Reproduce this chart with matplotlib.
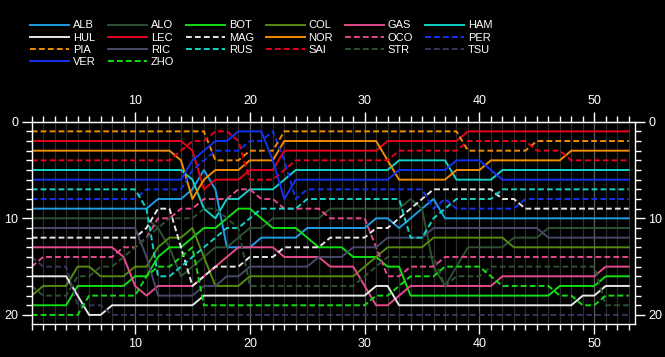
import numpy as np
import matplotlib.pyplot as plt
from matplotlib.ticker import MultipleLocator, FixedLocator

plt.rcParams["font.family"] = ["Liberation Sans", "DejaVu Sans"]

# =====================================================
# Data: race position per lap (laps 1..53)
# =====================================================

laps = list(range(1, 54))

drivers = ["ALB", "ALO", "BOT", "COL", "GAS", "HAM",
           "HUL", "LEC", "MAG", "NOR", "OCO", "PER",
           "PIA", "RIC", "RUS", "SAI", "STR", "TSU",
           "VER", "ZHO"]

ALB = [9, 9, 9, 9, 9, 9, 9, 9, 9, 9,
       9, 8, 8, 8, 7, 5, 7, 13, 13, 13,
       12, 12, 12, 12, 11, 11, 11, 11, 11, 11,
       10, 10, 11, 10, 9, 8, 10, 10, 10, 10,
       10, 10, 10, 10, 10, 10, 10, 10, 10, 10,
       10, 10, 10]
ALO = [10, 10, 10, 10, 10, 10, 10, 10, 10, 10,
       10, 11, 13, 16, 15, 14, 13, 13, 12, 11,
       11, 10, 10, 10, 10, 10, 9, 9, 9, 9,
       9, 9, 9, 8, 9, 15, 17, 15, 13, 13,
       13, 13, 12, 12, 12, 11, 11, 11, 11, 11,
       11, 11, 11]
BOT = [19, 19, 19, 19, 17, 17, 17, 17, 17, 16,
       16, 14, 13, 13, 12, 11, 11, 10, 9, 9,
       10, 11, 11, 11, 12, 13, 13, 13, 14, 14,
       14, 15, 15, 18, 18, 18, 18, 18, 18, 18,
       18, 18, 18, 18, 18, 18, 17, 17, 17, 17,
       16, 16, 16]
COL = [18, 17, 17, 17, 15, 15, 16, 16, 16, 15,
       15, 13, 12, 12, 11, 14, 17, 17, 17, 16,
       16, 16, 16, 16, 16, 16, 16, 16, 16, 15,
       14, 13, 13, 13, 13, 12, 12, 12, 12, 12,
       12, 12, 13, 13, 13, 13, 13, 13, 13, 13,
       13, 13, 13]
GAS = [13, 13, 13, 13, 13, 13, 13, 13, 14, 17,
       18, 17, 17, 17, 17, 16, 15, 14, 13, 13,
       13, 13, 14, 14, 14, 14, 15, 15, 15, 17,
       19, 19, 18, 17, 17, 17, 17, 17, 17, 17,
       17, 16, 16, 16, 16, 16, 16, 16, 16, 16,
       15, 15, 15]
HAM = [5, 5, 5, 5, 5, 5, 5, 5, 5, 5,
       5, 5, 5, 5, 6, 9, 10, 8, 8, 7,
       7, 7, 6, 5, 5, 5, 5, 5, 5, 5,
       5, 5, 4, 4, 4, 4, 4, 6, 6, 6,
       6, 5, 5, 5, 5, 5, 5, 5, 5, 5,
       5, 5, 5]
HUL = [16, 16, 16, 16, 18, 20, 20, 19, 19, 19,
       19, 19, 19, 19, 19, 18, 18, 18, 18, 18,
       18, 18, 18, 18, 18, 18, 18, 18, 18, 18,
       17, 17, 19, 19, 19, 19, 19, 19, 19, 19,
       19, 19, 19, 19, 19, 19, 19, 19, 18, 18,
       17, 17, 17]
LEC = [2, 2, 2, 2, 2, 2, 2, 2, 2, 2,
       2, 2, 2, 2, 3, 7, 6, 6, 6, 5,
       5, 5, 3, 3, 3, 3, 3, 3, 3, 3,
       3, 2, 2, 2, 2, 2, 2, 2, 1, 1,
       1, 1, 1, 1, 1, 1, 1, 1, 1, 1,
       1, 1, 1]
MAG = [12, 12, 12, 12, 12, 12, 12, 12, 12, 12,
       11, 9, 9, 13, 17, 16, 15, 15, 15, 14,
       14, 14, 13, 13, 13, 13, 12, 12, 12, 12,
       11, 11, 10, 9, 8, 7, 7, 7, 7, 7,
       7, 8, 8, 9, 9, 9, 9, 9, 9, 9,
       9, 9, 9]
NOR = [3, 3, 3, 3, 3, 3, 3, 3, 3, 3,
       3, 3, 3, 4, 8, 6, 5, 5, 5, 4,
       4, 4, 2, 2, 2, 2, 2, 2, 2, 2,
       2, 4, 6, 6, 6, 6, 6, 5, 5, 5,
       4, 4, 4, 4, 4, 4, 4, 3, 3, 3,
       3, 3, 3]
OCO = [15, 14, 14, 14, 14, 14, 14, 14, 13, 13,
       12, 10, 10, 9, 9, 8, 8, 8, 7, 7,
       8, 8, 9, 9, 9, 9, 10, 10, 10, 10,
       13, 16, 16, 15, 15, 15, 14, 14, 14, 14,
       14, 14, 14, 14, 14, 14, 14, 14, 14, 14,
       14, 14, 14]
PER = [8, 8, 8, 8, 8, 8, 8, 8, 8, 8,
       7, 7, 7, 7, 5, 4, 3, 3, 3, 2,
       2, 1, 4, 8, 7, 7, 7, 7, 7, 7,
       7, 7, 7, 7, 7, 9, 8, 9, 9, 9,
       9, 9, 9, 8, 8, 8, 8, 8, 8, 8,
       8, 8, 8]
PIA = [1, 1, 1, 1, 1, 1, 1, 1, 1, 1,
       1, 1, 1, 1, 1, 1, 4, 4, 4, 3,
       3, 3, 1, 1, 1, 1, 1, 1, 1, 1,
       1, 1, 1, 1, 1, 1, 1, 1, 3, 3,
       3, 3, 3, 3, 2, 2, 2, 2, 2, 2,
       2, 2, 2]
RIC = [11, 11, 11, 11, 11, 11, 11, 11, 11, 11,
       14, 18, 18, 18, 18, 17, 17, 16, 16, 15,
       15, 15, 15, 15, 15, 14, 14, 14, 13, 13,
       13, 12, 12, 12, 12, 11, 11, 11, 11, 11,
       11, 11, 11, 11, 11, 12, 12, 12, 12, 12,
       12, 12, 12]
RUS = [7, 7, 7, 7, 7, 7, 7, 7, 7, 7,
       9, 16, 16, 15, 14, 13, 12, 11, 11, 10,
       9, 9, 9, 9, 8, 8, 8, 8, 8, 8,
       8, 8, 8, 12, 12, 10, 9, 8, 8, 8,
       8, 7, 7, 7, 7, 7, 7, 7, 7, 7,
       7, 7, 7]
SAI = [4, 4, 4, 4, 4, 4, 4, 4, 4, 4,
       4, 4, 4, 3, 2, 2, 1, 1, 2, 6,
       6, 6, 5, 4, 4, 4, 4, 4, 4, 4,
       4, 4, 3, 3, 3, 3, 3, 3, 2, 2,
       2, 2, 2, 2, 3, 3, 3, 4, 4, 4,
       4, 4, 4]
STR = [17, 18, 18, 18, 16, 16, 15, 15, 14, 13,
       12, 11, 10, 10, 10, 9, 9, 10, 11, 17,
       17, 17, 17, 17, 17, 17, 17, 17, 17, 16,
       15, 14, 14, 14, 14, 14, 17, 16, 16, 16,
       15, 15, 15, 15, 15, 15, 15, 15, 15, 15,
       19, 19, 19]
TSU = [14, 15, 15, 15, 19, 19, 19, 20, 20, 20,
       20, 20, 20, 20, 20, 20, 20, 20, 20, 20,
       20, 20, 20, 20, 20, 20, 20, 20, 20, 20,
       20, 20, 20, 20, 20, 20, 20, 20, 20, 20,
       20, 20, 20, 20, 20, 20, 20, 20, 20, 20,
       20, 20, 20]
VER = [6, 6, 6, 6, 6, 6, 6, 6, 6, 6,
       6, 6, 6, 6, 4, 3, 2, 2, 1, 1,
       1, 4, 8, 6, 6, 6, 6, 6, 6, 6,
       6, 6, 5, 5, 5, 5, 5, 4, 4, 4,
       5, 6, 6, 6, 6, 6, 6, 6, 6, 6,
       6, 6, 6]
ZHO = [20, 20, 20, 20, 20, 18, 18, 18, 18, 18,
       16, 15, 15, 14, 13, 19, 19, 19, 19, 19,
       19, 19, 19, 19, 19, 19, 19, 19, 19, 19,
       18, 18, 17, 16, 16, 16, 15, 15, 15, 15,
       16, 17, 17, 17, 17, 17, 18, 18, 19, 19,
       18, 18, 18]

positions = [ALB, ALO, BOT, COL, GAS, HAM, HUL, LEC, MAG, NOR,
             OCO, PER, PIA, RIC, RUS, SAI, STR, TSU, VER, ZHO]

colors = ["#1F9DE3", "#2E5231", "#12DD12", "#548A10", "#E64A8C", "#12D3C6",
          "#E6E6E6", "#E8001C", "#E6E6E6", "#F28C00", "#E64A8C", "#1232F0",
          "#F28C00", "#464A66", "#12D3C6", "#E8001C", "#2E5231", "#34375A",
          "#1232F0", "#12DD12"]

dashed = ["MAG", "OCO", "PER", "PIA", "RUS", "SAI", "STR", "TSU", "ZHO"]

lap_ticks = [10, 20, 30, 40, 50]

# =====================================================
# Figure
# =====================================================

fig = plt.figure(figsize=(6.65, 3.57), dpi=100, facecolor="black")

ax = fig.add_axes([0.0477, 0.0924, 0.9072, 0.5667], facecolor="black")

handles = []

for name, pos, col in zip(drivers, positions, colors):

    ls = (0, (3, 1.6)) if name in dashed else "-"

    line, = ax.plot(laps, pos, color=col, lw=1.4, ls=ls, label=name,
                    solid_joinstyle="round")

    handles.append(line)

ax.set_xlim(1, 53.55)
ax.set_ylim(20.94, 0)

ax.xaxis.set_major_locator(FixedLocator(lap_ticks))
ax.xaxis.set_minor_locator(MultipleLocator(1))
ax.yaxis.set_major_locator(FixedLocator([0, 10, 20]))
ax.yaxis.set_minor_locator(MultipleLocator(1))

ax.grid(which="minor", axis="x", color="#2c2c2c", lw=0.9)
ax.grid(which="major", axis="x", color="#5c5c5c", lw=0.9)
ax.set_axisbelow(True)

for sp in ax.spines.values():

    sp.set_color("white")

    sp.set_linewidth(1.0)

ax.tick_params(axis="both", which="both", colors="white", direction="out",
               labelsize=9, width=1.0)
ax.tick_params(axis="both", which="major", length=7)
ax.tick_params(axis="both", which="minor", length=4)
ax.tick_params(axis="x", which="major", pad=3)
ax.tick_params(axis="y", which="both", right=True, labelright=True, pad=2.5)

top = ax.secondary_xaxis("top")
top.xaxis.set_major_locator(FixedLocator(lap_ticks))
top.xaxis.set_minor_locator(MultipleLocator(1))
top.spines["top"].set_color("white")
top.tick_params(axis="x", which="both", colors="white", direction="out",
                labelsize=9, width=1.0)
top.tick_params(axis="x", which="major", length=7, pad=3.5)
top.tick_params(axis="x", which="minor", length=4)

# =====================================================
# Legend (row-major order, 6 columns)
# =====================================================

ncol = 6
order = []

for c in range(ncol):

    for r in range(4):

        i = r*ncol + c

        if i < len(handles):

            order.append(i)

leg = fig.legend([handles[i] for i in order], [drivers[i] for i in order],
                 ncol=ncol, loc="upper left", bbox_to_anchor=(26/665, 1-16/357),
                 frameon=False, fontsize=8, labelcolor="white",
                 handlelength=3.5, handletextpad=0.35, columnspacing=1.07,
                 labelspacing=0.2, borderaxespad=0)

fig.savefig("out.png", dpi=100, facecolor="black")
